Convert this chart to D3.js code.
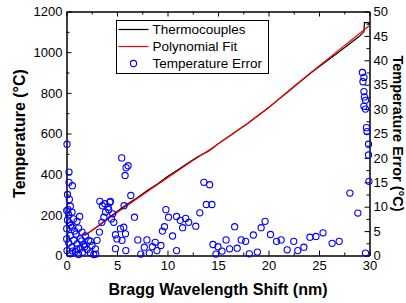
<!DOCTYPE html>
<html>
<head>
<meta charset="utf-8">
<script src="https://cdn.jsdelivr.net/npm/d3@7"></script>
<style>
  body { margin: 0; background: #fff; }
  svg { display: block; font-family: Arial, "Liberation Sans", sans-serif; }
  .axis text { font-size: 13px; fill: #000; }
  .axis path, .axis line { stroke: #000; }
</style>
</head>
<body>
<svg id="chart" width="406" height="303"></svg>
<script>
// Thermocouple readings (black line)
const thermoX = [1.8, 3, 4, 5, 6, 7, 8, 9, 10, 11, 12, 13, 14, 14.5, 15, 16, 17, 18, 19, 20,
                 21, 22, 23, 24, 25, 26, 27, 28, 29, 29.45, 29.5, 29.9, 30];
const thermoT = [98, 140, 178, 216, 252, 284, 320, 352, 388, 421, 454, 486, 512, 528, 549, 583, 617, 652, 690, 727,
                 768, 808, 850, 890, 928, 965, 1002, 1040, 1078, 1100, 1145, 1145, 1136];

// Polynomial fit (red line)
const fitX = [1.8, 3, 5.3, 8.3, 10.3, 12.25, 14.24, 16, 18, 20, 22, 24, 26, 28, 30];
const fitT = [98, 140, 221, 325, 392, 458, 523, 583, 652, 727, 810, 892, 972, 1051, 1131];

// Temperature error (blue circles, right axis)
const errX = [0.05, 0.25, 0.25, 0.58, 0.28, 0.38, 0.15, 0.55, 0.22, 0.7, 1.04, 0.28, 0.55, 1.2, 1.54, 0.94, 0.38,
              1.87, 1.37, 0.71, 2.2, 0.22, 1.04, 1.7, 2.53, 0.55, 1.37, 2.03, 2.86, 0.05, 0.87, 1.6, 2.36, 0.38,
              1.2, 2.7, 0.02, 0.02, 0.02, 0.1, 1.8, 2.4, 0.6, 1.0, 2.9, 0.4, 0.8, 1.5, 0.1, 1.3,
              3.03, 3.26, 3.5, 3.7, 3.86, 4.18, 4.35, 4.12, 3.79, 4.58, 4.45, 4.68, 4.85, 5.0, 5.34, 5.67,
              5.84, 5.5, 4.85, 3.3, 4.3, 3.55,
              5.47, 5.9, 6.1, 5.8, 6.37, 5.7, 6.73, 7.06, 5.87,
              7.96, 8.78, 9.35, 7.7, 8.5, 8.95, 8.2, 7.36, 9.84, 10.1, 10.9, 11.26, 11.8, 12.1, 11.5, 9.7,
              9.5, 10.5, 10.9, 12.8, 13.2, 13.6, 14.17, 13.84, 14.4, 14.5, 15.0, 14.8,
              15.4, 15.8, 16.15, 16.65, 16.9, 17.3, 17.74, 18.1, 18.5, 18.9, 19.27, 19.66, 20.2, 20.8, 21.25,
              21.85, 22.5, 22.9, 23.5, 24.1, 24.7, 25.4, 26.3, 27.0, 28.06, 28.85, 29.6,
              29.3, 29.45, 29.35, 29.45, 29.5, 29.6, 29.45, 29.6, 29.7, 29.75, 29.9, 29.9, 29.95];
const errE = [22.8, 17.1, 15.0, 14.3, 11.5, 10.1, 9.4, 8.9, 8.3, 7.5, 7.0, 6.7, 5.8, 5.6, 4.8, 4.4, 4.1,
              4.0, 3.4, 3.1, 3.1, 2.6, 2.4, 2.2, 2.05, 1.7, 1.5, 1.23, 1.37, 1.0, 0.8, 0.68, 0.55, 0.35,
              0.2, 0.2, 3.4, 5.5, 9.2, 12.5, 1.8, 2.9, 0.9, 1.3, 0.3, 6.2, 5.0, 3.0, 7.3, 8.0,
              3.1, 4.8, 6.8, 7.85, 8.9, 9.4, 11.1, 9.9, 10.6, 8.55, 7.5, 6.8, 4.25, 3.4, 5.5, 5.8,
              4.45, 3.1, 1.4, 11.1, 10.9, 10.2,
              20.0, 18.0, 18.4, 16.4, 12.3, 10.2, 7.85, 3.2, 1.0,
              3.2, 2.7, 2.05, 1.7, 1.8, 1.0, 0.5, 0.3, 9.4, 7.85, 8.0, 7.2, 7.6, 6.8, 5.7, 5.9,
              5.0, 4.0, 1.0, 6.0, 8.75, 15.0, 14.5, 10.45, 10.45, 2.25, 1.8, 0.3,
              0.9, 3.2, 1.37, 5.9, 1.5, 3.2, 2.9, 0.35, 4.2, 0.7, 5.7, 7.0, 4.3, 2.9, 3.2,
              1.17, 2.9, 1.0, 1.7, 3.75, 3.9, 4.65, 2.5, 2.9, 12.8, 8.7, 0.5,
              37.5, 36.5, 35.6, 33.6, 32.5, 31.8, 30.6, 30.0, 26.2, 25.4, 22.8, 20.6, 15.2];

const xTicks = [0, 5, 10, 15, 20, 25, 30];
const xMinor = [2.5, 7.5, 12.5, 17.5, 22.5, 27.5];
const yTicks = [0, 200, 400, 600, 800, 1000, 1200];
const yMinor = [100, 300, 500, 700, 900, 1100];
const eTicks = [0, 5, 10, 15, 20, 25, 30, 35, 40, 45, 50];
const eMinor = [2.5, 7.5, 12.5, 17.5, 22.5, 27.5, 32.5, 37.5, 42.5, 47.5];

const legendLabels = ["Thermocouples", "Polynomial Fit", "Temperature Error"];

const plotL = 66.5, plotR = 369.5, plotT = 11.5, plotB = 255.5;

const svg = d3.select("#chart");
svg.append("rect").attr("width", 406).attr("height", 303).attr("fill", "#fff");

const x = d3.scaleLinear().domain([0, 30]).range([plotL, plotR]);
const y = d3.scaleLinear().domain([0, 1200]).range([plotB, plotT]);
const yE = d3.scaleLinear().domain([0, 50]).range([plotB, plotT]);
const fmt = d3.format("d");

// axes (ticks point inward)
svg.append("g").attr("class", "axis").attr("transform", `translate(0,${plotB})`)
    .call(d3.axisBottom(x).tickValues(xTicks).tickFormat(fmt).tickSize(-5).tickSizeOuter(0).tickPadding(5));
svg.append("g").attr("class", "axis").attr("transform", `translate(0,${plotB})`)
    .call(d3.axisBottom(x).tickValues(xMinor).tickSize(-3).tickSizeOuter(0).tickFormat(""));
svg.append("g").attr("class", "axis").attr("transform", `translate(0,${plotT})`)
    .call(d3.axisTop(x).tickValues(xTicks).tickSize(-5).tickSizeOuter(0).tickFormat(""));
svg.append("g").attr("class", "axis").attr("transform", `translate(0,${plotT})`)
    .call(d3.axisTop(x).tickValues(xMinor).tickSize(-3).tickSizeOuter(0).tickFormat(""));

svg.append("g").attr("class", "axis").attr("transform", `translate(${plotL},0)`)
    .call(d3.axisLeft(y).tickValues(yTicks).tickFormat(fmt).tickSize(-5).tickSizeOuter(0).tickPadding(4));
svg.append("g").attr("class", "axis").attr("transform", `translate(${plotL},0)`)
    .call(d3.axisLeft(y).tickValues(yMinor).tickSize(-3).tickSizeOuter(0).tickFormat(""));

svg.append("g").attr("class", "axis").attr("transform", `translate(${plotR},0)`)
    .call(d3.axisRight(yE).tickValues(eTicks).tickFormat(fmt).tickSize(-5).tickSizeOuter(0).tickPadding(4));
svg.append("g").attr("class", "axis").attr("transform", `translate(${plotR},0)`)
    .call(d3.axisRight(yE).tickValues(eMinor).tickSize(-3).tickSizeOuter(0).tickFormat(""));

// lines
const line = d3.line().x(d => x(d[0])).y(d => y(d[1]));
svg.append("path").datum(thermoX.map((v, i) => [v, thermoT[i]]))
    .attr("fill", "none").attr("stroke", "#000").attr("stroke-width", 1.2).attr("d", line);
svg.append("path").datum(fitX.map((v, i) => [v, fitT[i]]))
    .attr("fill", "none").attr("stroke", "#ff0000").attr("stroke-width", 1.2).attr("d", line);

// error circles
svg.append("g").selectAll("circle")
    .data(errX.map((v, i) => [v, errE[i]]))
    .join("circle")
    .attr("cx", d => x(d[0]))
    .attr("cy", d => yE(d[1]))
    .attr("r", 3.1)
    .attr("fill", "none")
    .attr("stroke", "#0000ff")
    .attr("stroke-width", 1.1);

// axis titles
svg.append("text")
    .attr("x", x(15)).attr("y", 295)
    .attr("text-anchor", "middle")
    .attr("font-size", 16).attr("font-weight", "bold")
    .text("Bragg Wavelength Shift (nm)");
svg.append("text")
    .attr("transform", `translate(25,${(plotT + plotB) / 2}) rotate(-90)`)
    .attr("text-anchor", "middle")
    .attr("font-size", 16).attr("font-weight", "bold")
    .text("Temperature (°C)");
svg.append("text")
    .attr("transform", `translate(392.5,${(plotT + plotB) / 2}) rotate(90)`)
    .attr("text-anchor", "middle")
    .attr("font-size", 14.5).attr("font-weight", "bold")
    .text("Temperature Error (°C)");

// legend
const lg = svg.append("g").attr("transform", "translate(116.5,20.5)");
lg.append("rect").attr("width", 152).attr("height", 53)
    .attr("fill", "#fff").attr("stroke", "#000").attr("stroke-width", 1);
const rows = [9, 26, 43];
lg.append("line").attr("x1", 2).attr("x2", 32).attr("y1", rows[0]).attr("y2", rows[0])
    .attr("stroke", "#000").attr("stroke-width", 1.2);
lg.append("line").attr("x1", 2).attr("x2", 32).attr("y1", rows[1]).attr("y2", rows[1])
    .attr("stroke", "#ff0000").attr("stroke-width", 1.2);
lg.append("circle").attr("cx", 17).attr("cy", rows[2]).attr("r", 3.1)
    .attr("fill", "none").attr("stroke", "#0000ff").attr("stroke-width", 1.1);
lg.selectAll("text.lab").data(legendLabels).join("text")
    .attr("class", "lab")
    .attr("x", 36).attr("y", (d, i) => rows[i] + 4.7)
    .attr("font-size", 13.5)
    .text(d => d);
</script>
</body>
</html>
